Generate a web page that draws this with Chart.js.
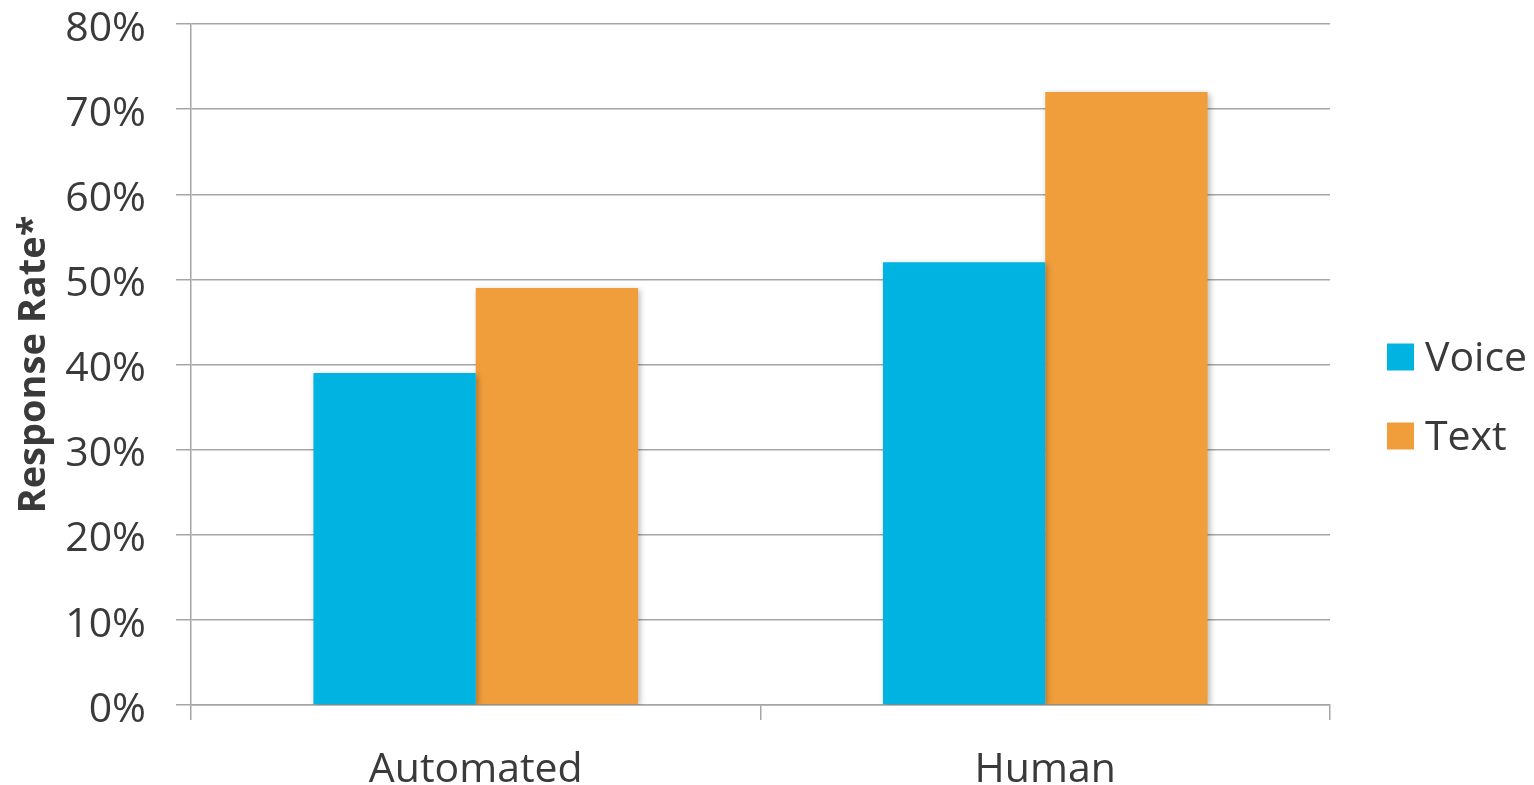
<!DOCTYPE html>
<html>
<head>
<meta charset="utf-8">
<title>Response Rate</title>
<script src="https://cdn.jsdelivr.net/npm/chart.js@4/dist/chart.umd.min.js"></script>
<style>
  html, body { margin: 0; padding: 0; background: #ffffff; }
  #wrap { width: 1534px; height: 785px; position: relative; }
</style>
</head>
<body>
<div id="wrap"><canvas id="chart" width="1534" height="785"></canvas></div>
<script>
// Response rate by contact type and channel
const categories = ['Automated', 'Human'];
const voiceValues = [39, 52];
const textValues = [49, 72];
const seriesNames = ['Voice', 'Text'];
const yTicks = [0, 10, 20, 30, 40, 50, 60, 70, 80];

const FONT = "'Open Sans', 'DejaVu Sans', sans-serif";
const TEXT_COLOR = '#3a3a3a';
const GRID_COLOR = '#a6a6a6';
const COLORS = ['#00b3e0', '#f09e3c'];

// Soft drop shadow under the bars
const barShadow = {
  id: 'barShadow',
  beforeDatasetsDraw(chart) {
    const ctx = chart.ctx;
    ctx.save();
    ctx.shadowColor = 'rgba(0,0,0,0.28)';
    ctx.shadowBlur = 6;
    ctx.shadowOffsetX = 2;
    ctx.shadowOffsetY = 2;
  },
  afterDatasetsDraw(chart) {
    chart.ctx.restore();
  }
};

// Legend drawn to the right of the plot
const sideLegend = {
  id: 'sideLegend',
  afterDraw(chart) {
    const ctx = chart.ctx;
    const box = 27;
    const gap = 79;
    const x = chart.chartArea.right + 57;
    const n = chart.data.datasets.length;
    const cy0 = chart.height / 2 + 4 - (n - 1) * gap / 2;
    ctx.save();
    ctx.font = '400 41px ' + FONT;
    ctx.textBaseline = 'middle';
    ctx.textAlign = 'left';
    chart.data.datasets.forEach((ds, i) => {
      const cy = cy0 + i * gap;
      ctx.fillStyle = ds.backgroundColor;
      ctx.fillRect(x, cy - box / 2, box, box);
      ctx.fillStyle = TEXT_COLOR;
      ctx.fillText(ds.label, x + box + 11, cy + 2);
    });
    ctx.restore();
  }
};

new Chart(document.getElementById('chart'), {
  type: 'bar',
  data: {
    labels: categories,
    datasets: [
      { label: seriesNames[0], data: voiceValues, backgroundColor: COLORS[0] },
      { label: seriesNames[1], data: textValues, backgroundColor: COLORS[1] }
    ]
  },
  options: {
    responsive: false,
    animation: false,
    devicePixelRatio: 1,
    layout: { padding: { top: 0, right: 204, bottom: 0, left: 0 } },
    datasets: {
      bar: { categoryPercentage: 0.57, barPercentage: 1.0, borderWidth: 0 }
    },
    plugins: {
      legend: { display: false },
      tooltip: { enabled: false }
    },
    scales: {
      x: {
        offset: true,
        grid: {
          offset: true,
          drawOnChartArea: false,
          drawTicks: true,
          tickLength: 15,
          color: GRID_COLOR,
          lineWidth: 1.5
        },
        border: { display: true, color: GRID_COLOR, width: 1.5 },
        ticks: {
          color: TEXT_COLOR,
          font: { family: FONT, size: 41 },
          padding: 26
        },
        afterFit(scale) { scale.height = 80; }
      },
      y: {
        min: 0,
        max: 80,
        afterBuildTicks(scale) {
          scale.ticks = yTicks.map(v => ({ value: v }));
        },
        grid: {
          color: GRID_COLOR,
          lineWidth: 1.5,
          drawTicks: true,
          tickLength: 15
        },
        border: { display: true, color: GRID_COLOR, width: 1.5 },
        ticks: {
          color: TEXT_COLOR,
          font: { family: FONT, size: 41 },
          padding: 30,
          labelOffset: 5,
          callback: v => v + '%'
        },
        title: {
          display: true,
          text: 'Response Rate*',
          color: TEXT_COLOR,
          font: { family: FONT, size: 38, weight: '700' },
          padding: { top: 11, bottom: 0 }
        },
        afterFit(scale) {
          scale.width = 191;
          scale.paddingTop = 24;
          scale.paddingBottom = 0;
        }
      }
    }
  },
  plugins: [barShadow, sideLegend]
});
</script>
</body>
</html>
